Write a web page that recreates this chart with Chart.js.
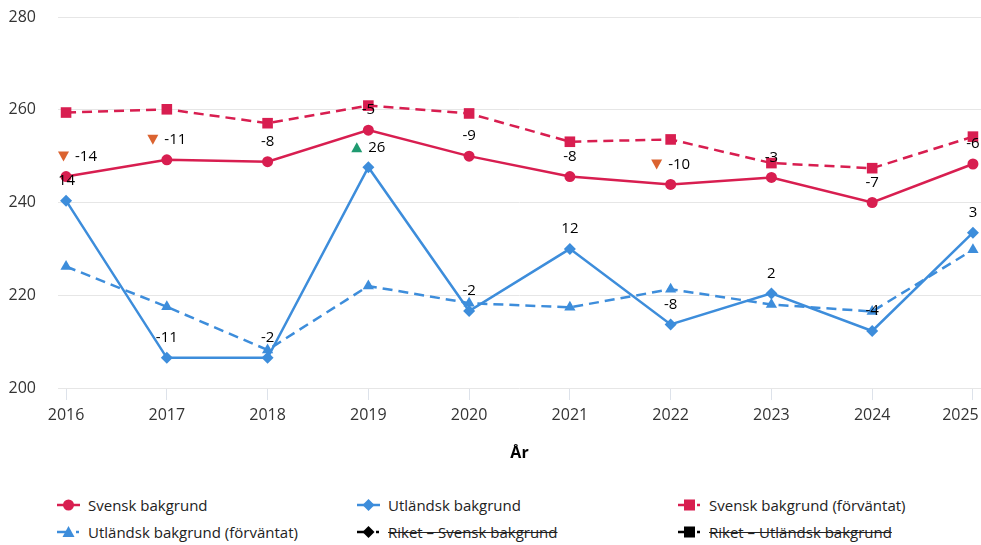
<!DOCTYPE html>
<html>
<head>
<meta charset="utf-8">
<script src="https://cdn.jsdelivr.net/npm/chart.js@4.4.1/dist/chart.umd.min.js"></script>
<style>
  html, body { margin: 0; padding: 0; background: #fff; }
  #wrap { position: relative; width: 981px; height: 545px; font-family: "Open Sans", sans-serif; }
  #chart { position: absolute; left: 0; top: 0; }
  .item { position: absolute; display: flex; align-items: center; height: 22px; font-size: 15px; color: #222; white-space: nowrap; }
  .item svg { margin-right: 3px; }
  .item.off span { text-decoration: line-through; }
</style>
</head>
<body>
<div id="wrap">
  <canvas id="chart" width="981" height="470"></canvas>
  <div id="legend"></div>
</div>
<script>
const years = [2016, 2017, 2018, 2019, 2020, 2021, 2022, 2023, 2024, 2025];
const yTicks = [200, 220, 240, 260, 280];

const svensk = [245.6, 249.2, 248.8, 255.6, 250.0, 245.6, 243.9, 245.4, 240.0, 248.3];
const utlandsk = [240.4, 206.5, 206.5, 247.6, 216.6, 230.0, 213.7, 220.4, 212.3, 233.5];
const svenskForv = [259.4, 260.1, 257.1, 260.9, 259.2, 253.1, 253.6, 248.5, 247.4, 254.2];
const utlandskForv = [226.2, 217.5, 208.2, 222.0, 218.3, 217.4, 221.3, 218.0, 216.5, 229.8];

// differences shown above the points, with significance arrows
const svenskDiff = [-14, -11, -8, -5, -9, -8, -10, -3, -7, -6];
const svenskSig = ["down", "down", "", "", "", "", "down", "", "", ""];
const utlandskDiff = [14, -11, -2, 26, -2, 12, -8, 2, -4, 3];
const utlandskSig = ["", "", "", "up", "", "", "", "", "", ""];

const RED = "#d81e50";
const BLUE = "#3d8ddb";
const ORANGE = "#db6330";
const GREEN = "#1f9a70";

const toXY = (vals) => vals.map((v, i) => ({ x: years[i], y: v }));

const datasets = [
  { label: "Svensk bakgrund", data: toXY(svensk), borderColor: RED, backgroundColor: RED,
    pointStyle: "circle", pointRadius: 5.5, borderWidth: 2.5, diffs: svenskDiff, sig: svenskSig },
  { label: "Utländsk bakgrund", data: toXY(utlandsk), borderColor: BLUE, backgroundColor: BLUE,
    pointStyle: "rectRot", pointRadius: 6, borderWidth: 2.5, diffs: utlandskDiff, sig: utlandskSig },
  { label: "Svensk bakgrund (förväntat)", data: toXY(svenskForv), borderColor: RED, backgroundColor: RED,
    pointStyle: "rect", pointRadius: 7.5, borderWidth: 2.5, borderDash: [10, 6] },
  { label: "Utländsk bakgrund (förväntat)", data: toXY(utlandskForv), borderColor: BLUE, backgroundColor: BLUE,
    pointStyle: "triangle", pointRadius: 6.5, borderWidth: 2.5, borderDash: [10, 6] },
  { label: "Riket – Svensk bakgrund", data: [], borderColor: "#000", backgroundColor: "#000",
    pointStyle: "rectRot", pointRadius: 6, borderWidth: 2.5, borderDash: [10, 6], hidden: true },
  { label: "Riket – Utländsk bakgrund", data: [], borderColor: "#000", backgroundColor: "#000",
    pointStyle: "rect", pointRadius: 7.5, borderWidth: 2.5, borderDash: [10, 6], hidden: true }
];
datasets.forEach(d => { d.pointBorderWidth = 0; d.tension = 0; d.fill = false; d.clip = false; });

const diffLabels = {
  id: "diffLabels",
  afterDatasetsDraw(chart) {
    const ctx = chart.ctx;
    const area = chart.chartArea;
    ctx.save();
    ctx.font = "15px 'Open Sans', sans-serif";
    ctx.textBaseline = "middle";
    ctx.textAlign = "left";
    chart.data.datasets.forEach((ds, di) => {
      if (!ds.diffs || !chart.isDatasetVisible(di)) return;
      const meta = chart.getDatasetMeta(di);
      meta.data.forEach((pt, i) => {
        const text = String(ds.diffs[i]);
        const tw = ctx.measureText(text).width;
        const mark = ds.sig[i];
        const mw = mark ? 17 : 0;
        const total = mw + tw;
        let left = pt.x - total / 2;
        if (left < area.left) left = area.left;
        if (left + total > area.right) left = area.right - total;
        const y = pt.y - 20;
        if (mark) {
          ctx.fillStyle = mark === "up" ? GREEN : ORANGE;
          ctx.beginPath();
          if (mark === "up") {
            ctx.moveTo(left, y + 5); ctx.lineTo(left + 11, y + 5); ctx.lineTo(left + 5.5, y - 5);
          } else {
            ctx.moveTo(left, y - 5); ctx.lineTo(left + 11, y - 5); ctx.lineTo(left + 5.5, y + 5);
          }
          ctx.closePath();
          ctx.fill();
        }
        ctx.fillStyle = "#000";
        ctx.fillText(text, left + mw, y);
      });
    });
    ctx.restore();
  }
};

const lastYear = years[years.length - 1];

const chart = new Chart(document.getElementById("chart"), {
  type: "line",
  data: { datasets },
  options: {
    responsive: false,
    animation: false,
    layout: { autoPadding: false, padding: { top: 17, right: 0, bottom: 0, left: 0 } },
    plugins: { legend: { display: false }, tooltip: { enabled: false } },
    scales: {
      x: {
        type: "linear",
        min: 2015.92,
        max: 2025.08,
        afterBuildTicks: (s) => { s.ticks = years.map(v => ({ value: v })); },
        afterFit: (s) => { s.height = 82; s.paddingLeft = 0; s.paddingRight = 0; },
        ticks: { color: "#333", font: { size: 16, family: "'Open Sans', sans-serif" }, padding: 6,
                 maxRotation: 0,
                 // trailing spaces keep the last label inside the canvas
                 callback: (v) => v === lastYear ? v + "      " : String(v) },
        grid: { drawOnChartArea: false, tickLength: 12, color: "#dde2ea" },
        border: { display: false },
        title: { display: true, text: "År", color: "#000", padding: { top: 4, bottom: 7 },
                 font: { size: 16, weight: "bold", family: "'Open Sans', sans-serif" } }
      },
      y: {
        min: 200,
        max: 280,
        afterBuildTicks: (s) => { s.ticks = yTicks.map(v => ({ value: v })); },
        afterFit: (s) => { s.width = 58; s.paddingTop = 0; s.paddingBottom = 0; },
        ticks: { color: "#333", font: { size: 16, family: "'Open Sans', sans-serif" }, padding: 22 },
        grid: { drawTicks: false, color: "#e6e6e6" },
        border: { display: false }
      }
    }
  },
  plugins: [diffLabels]
});

// HTML legend in three fixed columns
const legendPos = [[55, 505], [355, 505], [676, 505], [55, 532], [355, 532], [676, 532]];
const legend = document.getElementById("legend");
chart.data.datasets.forEach((ds, i) => {
  const [lx, ly] = legendPos[i];
  const c = ds.borderColor;
  let marker = "";
  if (ds.pointStyle === "circle") marker = `<circle cx="13.5" cy="8" r="5.5" fill="${c}"/>`;
  else if (ds.pointStyle === "rectRot") marker = `<polygon points="13.5,2 19.5,8 13.5,14 7.5,8" fill="${c}"/>`;
  else if (ds.pointStyle === "rect") marker = `<rect x="8" y="2.5" width="11" height="11" fill="${c}"/>`;
  else marker = `<polygon points="13.5,2 19.5,13 7.5,13" fill="${c}"/>`;
  const line = ds.borderDash
    ? `<line x1="2" y1="8" x2="13" y2="8" stroke="${c}" stroke-width="2.5"/><line x1="21" y1="8" x2="24" y2="8" stroke="${c}" stroke-width="2.5"/>`
    : `<line x1="2" y1="8" x2="25" y2="8" stroke="${c}" stroke-width="2.5"/>`;
  const el = document.createElement("div");
  el.className = "item" + (ds.hidden ? " off" : "");
  el.style.left = lx + "px";
  el.style.top = (ly - 11) + "px";
  el.innerHTML = `<svg width="30" height="16">${line}${marker}</svg><span>${ds.label}</span>`;
  legend.appendChild(el);
});
</script>
</body>
</html>
